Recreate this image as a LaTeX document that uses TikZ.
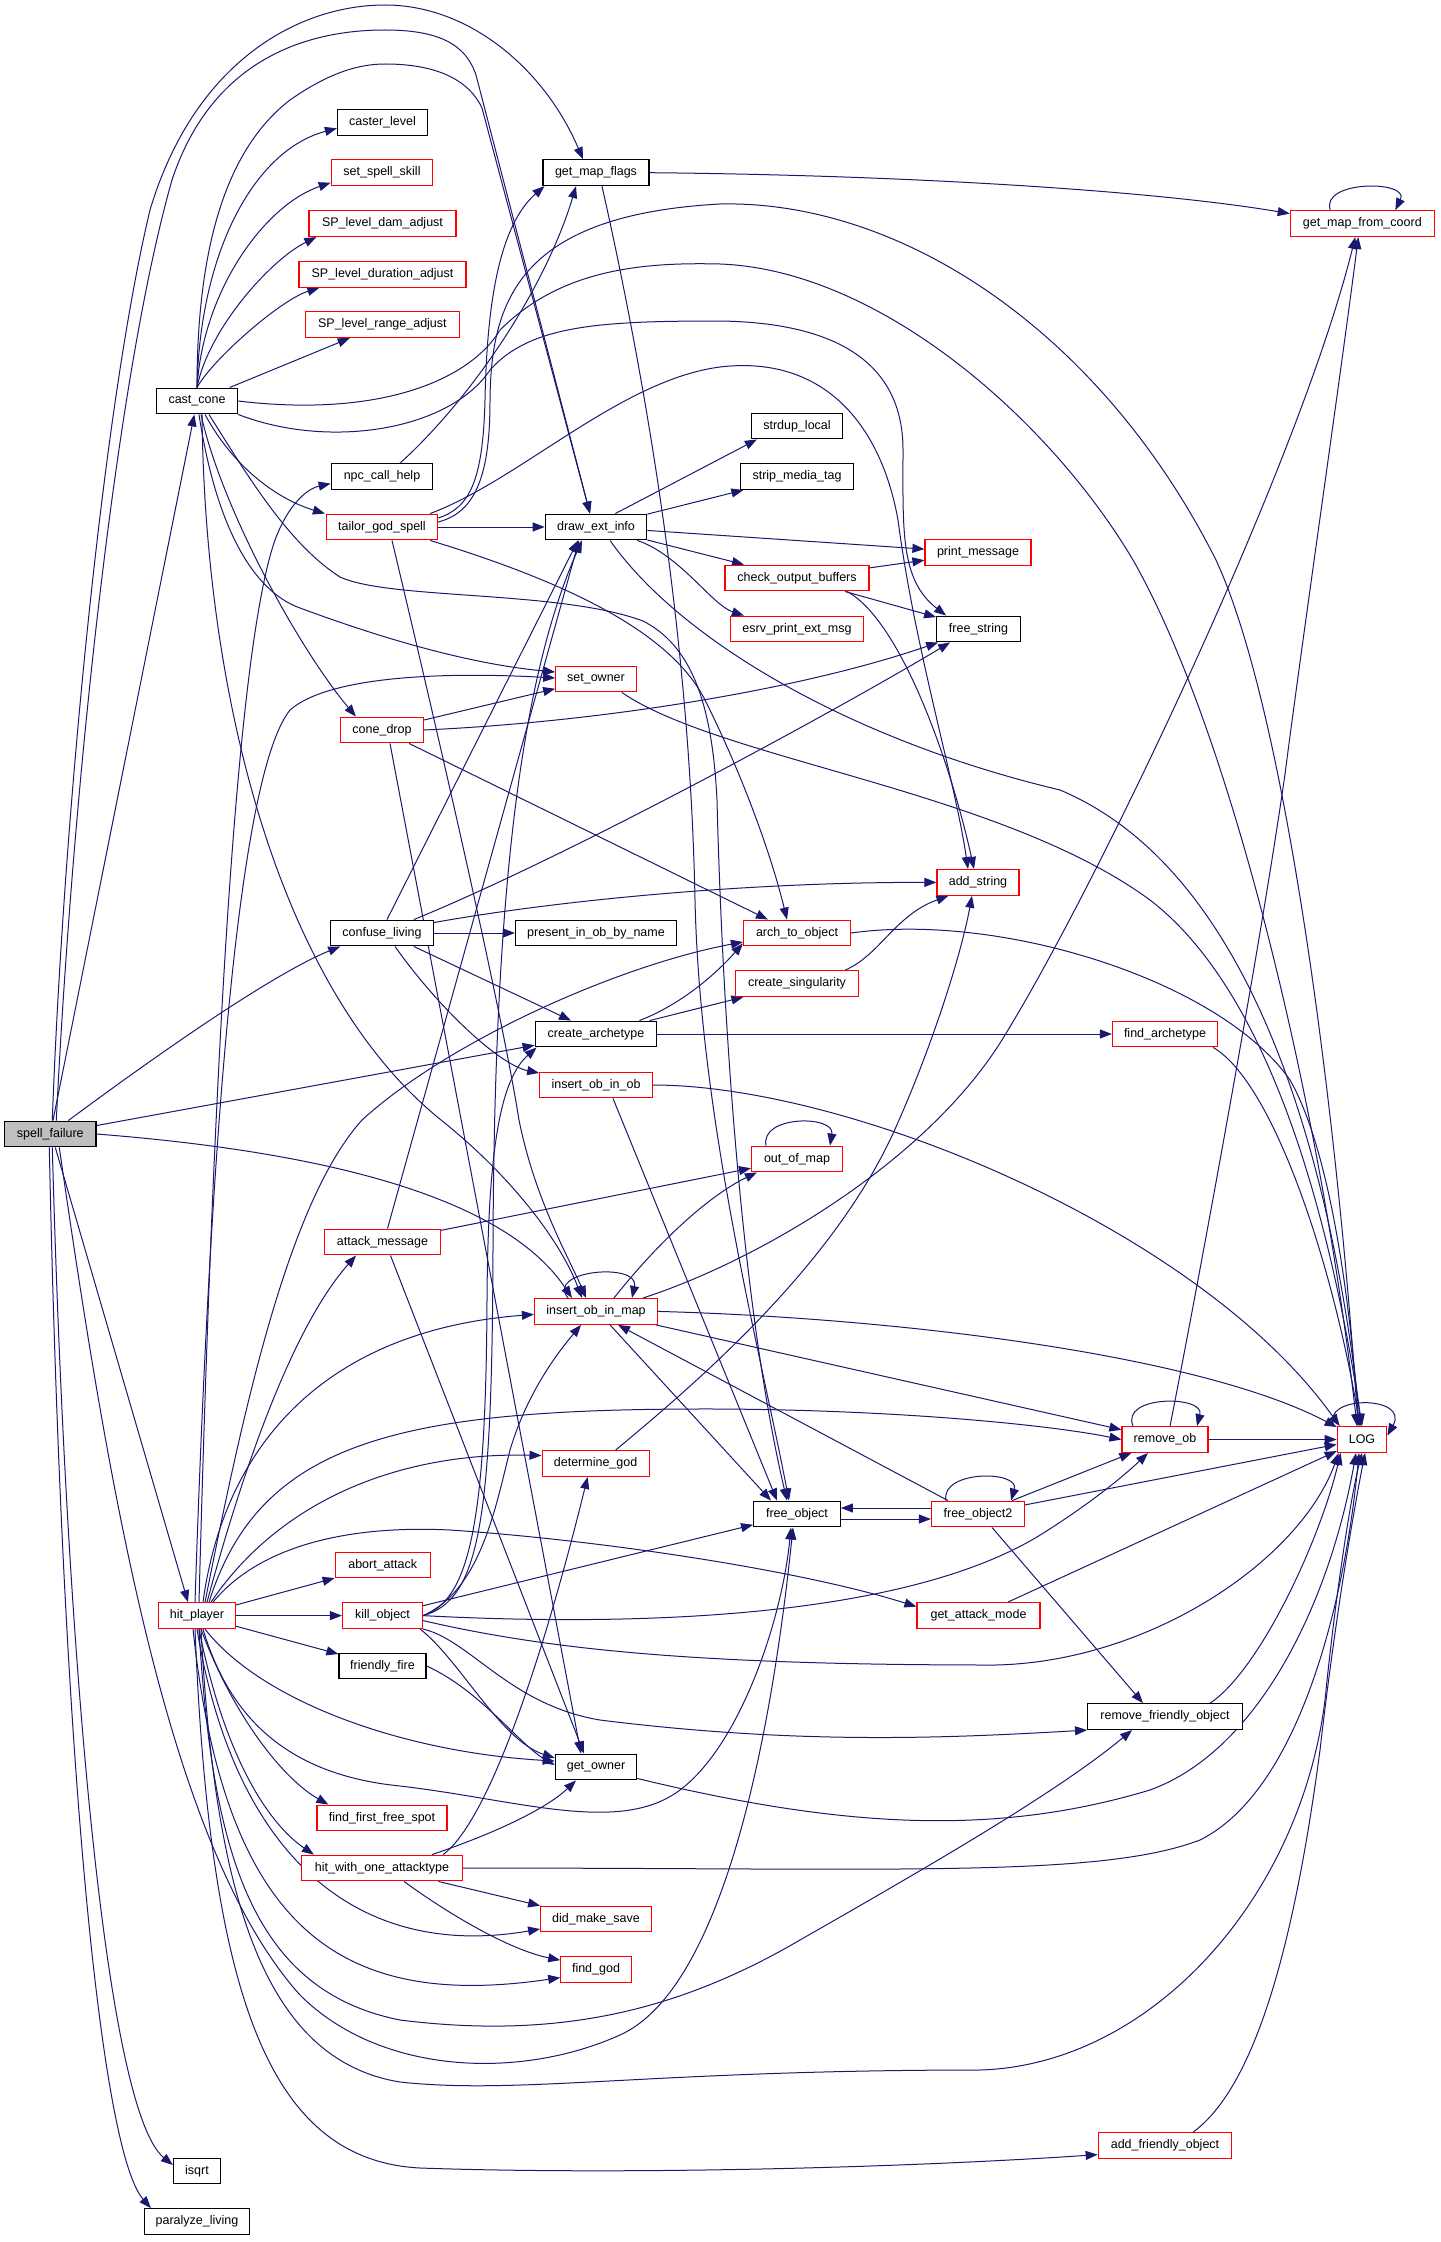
\documentclass[tikz,border=0pt]{standalone}
\usepackage{fontspec}
\setmainfont{Liberation Sans}
\usetikzlibrary{arrows.meta,calc}
\definecolor{edgecol}{RGB}{25,25,112}
\definecolor{boxred}{RGB}{255,0,0}
\definecolor{sfgray}{RGB}{191,191,191}
\pgfdeclarelayer{back}
\pgfdeclarelayer{bg}
\pgfsetlayers{back,bg,main}
\begin{document}
\begin{tikzpicture}[x=1pt,y=-1pt,
  nb/.style={draw=black,line width=1.2pt,fill=white,minimum height=25.7pt,inner sep=0pt,
    font=\fontsize{12.5}{15}\selectfont,text=black},
  nr/.style={nb,draw=boxred},
  ed/.style={draw=edgecol,line width=1pt,-{Triangle[length=12pt,width=9pt]}}]
\useasboundingbox (0,0) rectangle (1440,2242);
\begin{pgfonlayer}{back}
\fill[white] (0,0) rectangle (1440,2242);
\end{pgfonlayer}
% nodes
\node[nb,fill=sfgray,minimum width=91.4pt] (sf) at (50.3,1134) {spell\_failure};
\node[nb,minimum width=81pt] (cc) at (197,401) {cast\_cone};
\node[nb,minimum width=90pt] (cl0) at (382.5,122.3) {caster\_level};
\node[nr,minimum width=101.5pt] (sss) at (382,172.7) {set\_spell\_skill};
\node[nr,minimum width=147pt] (dam) at (382.5,223.6) {SP\_level\_dam\_adjust};
\node[nr,minimum width=167pt] (dur) at (382.5,274.3) {SP\_level\_duration\_adjust};
\node[nr,minimum width=154.6pt] (rng) at (382.4,324.6) {SP\_level\_range\_adjust};
\node[nb,minimum width=106pt] (gmf) at (596,172.7) {get\_map\_flags};
\node[nb,minimum width=101.5pt] (npc) at (382,476.6) {npc\_call\_help};
\node[nr,minimum width=111pt] (tgs) at (382,527) {tailor\_god\_spell};
\node[nb,minimum width=101.5pt] (dei) at (596,527) {draw\_ext\_info};
\node[nr,minimum width=144pt] (gmfc) at (1362.3,223.6) {get\_map\_from\_coord};
\node[nb,minimum width=91pt] (sd) at (797,426) {strdup\_local};
\node[nb,minimum width=113.6pt] (smt) at (797,476.6) {strip\_media\_tag};
\node[nr,minimum width=106pt] (pm) at (978,552.7) {print\_message};
\node[nr,minimum width=144pt] (cob) at (797,578) {check\_output\_buffers};
\node[nr,minimum width=133pt] (esrv) at (797,629) {esrv\_print\_ext\_msg};
\node[nb,minimum width=83.6pt] (frs) at (978.5,629) {free\_string};
\node[nr,minimum width=80.5pt] (so) at (596,679) {set\_owner};
\node[nr,minimum width=83pt] (cd) at (382,730) {cone\_drop};
\node[nr,minimum width=82pt] (ads) at (978,882.4) {add\_string};
\node[nb,minimum width=102.4pt] (cl) at (382,933) {confuse\_living};
\node[nb,minimum width=161pt] (pibn) at (596,933) {present\_in\_ob\_by\_name};
\node[nr,minimum width=107pt] (ato) at (797,933) {arch\_to\_object};
\node[nr,minimum width=123pt] (cs) at (797,983.6) {create\_singularity};
\node[nb,minimum width=121.6pt] (ca) at (596,1034) {create\_archetype};
\node[nr,minimum width=105pt] (fa) at (1165,1034) {find\_archetype};
\node[nr,minimum width=112.5pt] (ioo) at (596,1085) {insert\_ob\_in\_ob};
\node[nr,minimum width=91pt] (oom) at (797,1159) {out\_of\_map};
\node[nr,minimum width=115.7pt] (am) at (382.5,1242) {attack\_message};
\node[nr,minimum width=123pt] (iom) at (596,1311.4) {insert\_ob\_in\_map};
\node[nr,minimum width=86pt] (ro) at (1165,1439.5) {remove\_ob};
\node[nr,minimum width=49.5pt] (LOG) at (1362,1439.5) {LOG};
\node[nr,minimum width=107pt] (dg) at (595.6,1463.5) {determine\_god};
\node[nb,minimum width=86.7pt] (fo) at (797,1514) {free\_object};
\node[nr,minimum width=93pt] (fo2) at (978,1514) {free\_object2};
\node[nr,minimum width=95pt] (aa) at (382.7,1565) {abort\_attack};
\node[nr,minimum width=77pt] (hp) at (197,1615.6) {hit\_player};
\node[nr,minimum width=80pt] (ko) at (382.5,1615.6) {kill\_object};
\node[nr,minimum width=123pt] (gam) at (978.5,1615.6) {get\_attack\_mode};
\node[nb,minimum width=87pt] (ff) at (382.5,1666) {friendly\_fire};
\node[nb,minimum width=154.7pt] (rfo) at (1165,1716.6) {remove\_friendly\_object};
\node[nb,minimum width=81.4pt] (gow) at (596,1767) {get\_owner};
\node[nr,minimum width=130pt] (ffs) at (382,1818) {find\_first\_free\_spot};
\node[nr,minimum width=161pt] (hwoa) at (382,1868) {hit\_with\_one\_attacktype};
\node[nr,minimum width=110.6pt] (dms) at (596,1919) {did\_make\_save};
\node[nr,minimum width=70.4pt] (fgod) at (596,1969.6) {find\_god};
\node[nr,minimum width=133.5pt] (afo) at (1165,2145.6) {add\_friendly\_object};
\node[nb,minimum width=47pt] (isq) at (197,2171) {isqrt};
\node[nb,minimum width=105pt] (pl) at (197,2221.6) {paralyze\_living};
\begin{pgfonlayer}{bg}
% spell_failure
\draw[ed] (sf) -- (cc);
\draw[ed] ($(sf.north)+(2,0)$) .. controls (62,850) and (100,420) .. (150,210) .. controls (195,60) and (300,5) .. (385,5) .. controls (470,5) and (545,70) .. ($(gmf.north)+(-13,0)$);
\draw[ed] ($(sf.north)+(6,0)$) .. controls (72,800) and (115,380) .. (172,180) .. controls (215,50) and (320,30) .. (385,30) .. controls (440,30) and (466,45) .. (476,75) -- ($(dei.north)+(-6,0)$);
\draw[ed] (cc.north) .. controls (197,250) and (225,150) .. (290,100) .. controls (330,72) and (360,64) .. (385,64) .. controls (440,64) and (470,82) .. (482,108) -- ($(dei.north)+(-6,0)$);
\draw[ed] ($(sf.north)+(18,0)$) .. controls (150,1060) and (270,975) .. ($(cl.south west)+(10,0)$);
\draw[ed] (sf) -- (ca);
\draw[ed] (sf.east) .. controls (300,1150) and (500,1190) .. ($(iom.north)+(-24,0)$);
\draw[ed] ($(sf.south)+(5,0)$) -- ($(hp.north)+(-9,0)$);
\draw[ed] ($(sf.south)+(2,0)$) .. controls (66,1650) and (105,2110) .. ($(isq.west)+(0,-6)$);
\draw[ed] ($(sf.south)+(-1,0)$) .. controls (62,1750) and (100,2150) .. ($(pl.north west)+(7,0)$);
\draw[ed] ($(sf.south)+(9,0)$) .. controls (110,1500) and (170,1850) .. (300,1995) .. controls (380,2075) and (520,2080) .. (620,2035) .. controls (720,1990) and (770,1750) .. ($(fo.south)+(-4,0)$);
% cast_cone
\draw[ed] (cc.north) .. controls (200,250) and (255,150) .. ($(cl0.west)+(0,6)$);
\draw[ed] (cc.north) .. controls (203,290) and (265,205) .. ($(sss.west)+(0,10)$);
\draw[ed] (cc.north) .. controls (208,330) and (270,260) .. ($(dam.south west)+(8,0)$);
\draw[ed] (cc.north) .. controls (212,360) and (280,300) .. ($(dur.south west)+(21,0)$);
\draw[ed] (cc) -- (rng);
\draw[ed] (cc.east) .. controls (380,418) and (470,380) .. (500,330) .. controls (560,270) and (640,262) .. (720,264) .. controls (880,270) and (1050,420) .. (1133,560) .. controls (1230,730) and (1320,1100) .. ($(LOG.north)+(-5,0)$);
\draw[ed] (cc.south east) .. controls (330,450) and (450,430) .. (490,370) .. controls (530,325) and (600,321) .. (720,321) .. controls (860,323) and (903,380) .. (903,450) .. controls (903,530) and (900,580) .. ($(frs.north west)+(10,0)$);
\draw[ed] ($(cc.south)+(4,0)$) .. controls (222,510) and (300,650) .. ($(cd.north west)+(16,0)$);
\draw[ed] ($(cc.south)+(2,0)$) .. controls (215,520) and (250,590) .. (300,608) .. controls (400,645) and (480,665) .. ($(so.west)+(0,-7)$);
\draw[ed] ($(cc.south)+(5,0)$) .. controls (205,700) and (280,990) .. (441,1120) .. controls (510,1175) and (560,1240) .. ($(iom.north)+(-14,0)$);
\draw[ed] ($(cc.south)+(8,0)$) .. controls (235,470) and (280,500) .. ($(tgs.north west)+(-1,0)$);
\draw[ed] ($(cc.south)+(12,0)$) .. controls (250,480) and (290,545) .. (340,577) .. controls (390,600) and (560,590) .. (643,621) .. controls (690,645) and (712,700) .. (717,800) .. controls (722,1000) and (740,1300) .. ($(fo.north)+(-10,0)$);
% get_map_flags, npc, tailor
\draw[ed] ($(gmf.south)+(6,0)$) .. controls (650,400) and (690,650) .. (695,900) .. controls (700,1120) and (760,1350) .. ($(fo.north)+(-8,0)$);
\draw[ed] (gmf.east) .. controls (900,175) and (1150,190) .. ($(gmfc.west)+(0,-10)$);
\draw[ed] ($(gmfc.north)+(-32,0)$) .. controls (1320,180) and (1410,180) .. ($(gmfc.north)+(33,0)$);
\draw[ed] ($(npc.north)+(18,0)$) .. controls (470,400) and (545,290) .. ($(gmf.south)+(-20,0)$);
\draw[ed] (tgs) -- (dei);
\draw[ed] ($(tgs.east)+(0,-9)$) .. controls (470,508) and (483,480) .. (485,400) .. controls (487,300) and (500,225) .. ($(gmf.south west)+(2,0)$);
\draw[ed] ($(tgs.east)+(0,-5)$) .. controls (478,512) and (490,470) .. (490,400) .. controls (491,300) and (520,215) .. (720,204) .. controls (900,200) and (1100,330) .. (1216,560) .. controls (1290,720) and (1340,1150) .. ($(LOG.north)+(-4,0)$);
\draw[ed] ($(tgs.north east)+(-8,0)$) .. controls (520,480) and (620,380) .. (720,367) .. controls (820,355) and (880,420) .. (898,520) .. controls (915,650) and (955,780) .. ($(ads.north)+(-10,0)$);
\draw[ed] ($(tgs.south east)+(-8,0)$) .. controls (560,580) and (670,630) .. (705,700) .. controls (740,770) and (770,850) .. ($(ato.north)+(-10,0)$);
\draw[ed] ($(tgs.south)+(10,0)$) .. controls (430,700) and (500,1000) .. (519,1120) .. controls (535,1200) and (570,1260) .. ($(iom.north)+(-10,0)$);
% hit_player upward
\draw[ed] ($(hp.north)+(2,0)$) .. controls (215,1000) and (240,640) .. (275,540) .. controls (290,500) and (310,488) .. ($(npc.west)+(0,7)$);
\draw[ed] ($(hp.north)+(-2,0)$) .. controls (215,1000) and (250,760) .. (290,710) .. controls (330,675) and (450,672) .. ($(so.west)+(0,-1)$);
\draw[ed] ($(hp.north)+(10,0)$) .. controls (240,1480) and (290,1330) .. ($(am.south west)+(32,0)$);
\draw[ed] ($(hp.north)+(6,0)$) .. controls (225,1440) and (330,1330) .. ($(iom.west)+(0,3)$);
\draw[ed] ($(hp.north)+(12,0)$) .. controls (260,1440) and (400,1408) .. (720,1409) .. controls (900,1410) and (1050,1425) .. (ro.west);
\draw[ed] ($(hp.north)+(14,0)$) .. controls (280,1500) and (400,1452) .. ($(dg.west)+(0,-8)$);
\draw[ed] ($(hp.north)+(16,0)$) .. controls (260,1545) and (350,1525) .. (450,1530) .. controls (600,1540) and (800,1570) .. ($(gam.west)+(0,-9)$);
\draw[ed] ($(hp.north)+(8,0)$) .. controls (245,1400) and (290,1200) .. (362,1120) .. controls (450,1040) and (620,965) .. ($(ato.west)+(0,9)$);
\draw[ed] (hp) -- (aa);
\draw[ed] (hp) -- (ko);
\draw[ed] (hp) -- (ff);
% hit_player downward
\draw[ed] ($(hp.south)+(4,0)$) .. controls (215,1900) and (265,2060) .. (400,2082) .. controls (520,2095) and (650,2070) .. (980,2070) .. controls (1150,2065) and (1300,1900) .. (1325,1700) .. controls (1335,1600) and (1350,1500) .. (LOG.south);
\draw[ed] ($(hp.south)+(-2,0)$) .. controls (210,2000) and (270,2160) .. (420,2168) .. controls (620,2175) and (900,2168) .. ($(afo.west)+(0,9)$);
\draw[ed] ($(hp.south)+(2,0)$) .. controls (212,1850) and (250,1990) .. (400,2020) .. controls (560,2040) and (680,2010) .. (800,1940) .. controls (940,1860) and (1060,1790) .. ($(rfo.south west)+(45,0)$);
\draw[ed] ($(hp.south)+(6,0)$) .. controls (230,1720) and (290,1775) .. (400,1786) .. controls (520,1800) and (620,1835) .. (680,1790) .. controls (740,1745) and (782,1620) .. ($(fo.south)+(-6,0)$);
\draw[ed] ($(hp.south)+(8,0)$) .. controls (260,1700) and (400,1752) .. ($(gow.west)+(0,-6)$);
\draw[ed] ($(hp.south)+(4,0)$) .. controls (235,1720) and (285,1780) .. ($(ffs.north west)+(12,0)$);
\draw[ed] ($(hp.south)+(2,0)$) .. controls (225,1760) and (270,1825) .. ($(hwoa.north west)+(13,0)$);
\draw[ed] (hp.south) .. controls (235,1860) and (360,1960) .. ($(dms.west)+(0,10)$);
\draw[ed] ($(hp.south)+(-4,0)$) .. controls (225,1930) and (340,2010) .. ($(fgod.west)+(0,8)$);
% cone_drop
\draw[ed] (cd) -- (so);
\draw[ed] (cd.east) .. controls (600,722) and (800,690) .. ($(frs.south west)+(2,0)$);
\draw[ed] ($(cd.south east)+(-15,0)$) -- ($(ato.north west)+(25,0)$);
\draw[ed] ($(cd.south)+(8,0)$) -- ($(gow.north)+(-15,0)$);
% confuse_living
\draw[ed] ($(cl.north)+(5,0)$) -- ($(dei.south)+(-18,0)$);
\draw[ed] ($(cl.north east)+(-20,0)$) .. controls (560,860) and (820,720) .. ($(frs.south west)+(14,0)$);
\draw[ed] ($(cl.north east)+(0,3)$) .. controls (560,900) and (750,882) .. (ads.west);
\draw[ed] (cl) -- (pibn);
\draw[ed] ($(cl.south east)+(-20,0)$) -- ($(ca.north)+(-25,0)$);
\draw[ed] ($(cl.south)+(13,0)$) .. controls (440,1010) and (500,1065) .. ($(ioo.west)+(0,-12)$);
% create_archetype etc
\draw[ed] ($(ca.north east)+(-18,0)$) .. controls (680,1005) and (715,975) .. ($(ato.south west)+(0,-3)$);
\draw[ed] (ca) -- (cs);
\draw[ed] (ca) -- (fa);
\draw[ed] ($(cs.north east)+(-14,0)$) .. controls (880,955) and (895,915) .. ($(ads.south west)+(12,0)$);
\draw[ed] (ato.east) .. controls (1000,912) and (1220,980) .. (1290,1080) .. controls (1330,1150) and (1350,1300) .. ($(LOG.north)+(-3,0)$);
\draw[ed] ($(fa.south east)+(-5,0)$) .. controls (1270,1080) and (1330,1250) .. ($(LOG.north)+(-2,0)$);
\draw[ed] (ioo.east) .. controls (850,1085) and (1200,1230) .. ($(LOG.north west)+(3,0)$);
\draw[ed] ($(ioo.south)+(17,0)$) -- ($(fo.north)+(-20,0)$);
% insert_ob_in_map
\draw[ed] ($(iom.south)+(14,0)$) -- ($(fo.north)+(-26,0)$);
\draw[ed] ($(iom.north)+(-28,0)$) .. controls (545,1270) and (640,1262) .. ($(iom.north)+(36,0)$);
\draw[ed] ($(iom.north)+(18,0)$) .. controls (660,1240) and (710,1195) .. ($(oom.south west)+(6,0)$);
\draw[ed] ($(iom.north east)+(-15,0)$) .. controls (760,1260) and (930,1160) .. (1005,1035) .. controls (1100,880) and (1300,460) .. ($(gmfc.south)+(-7,0)$);
\draw[ed] (iom.east) .. controls (900,1318) and (1200,1355) .. ($(LOG.north west)+(0,1)$);
\draw[ed] (iom) -- (ro);
\draw[ed] ($(fo2.north)+(-30,0)$) -- ($(iom.south)+(22,0)$);
\draw[ed] ($(dg.north)+(20,0)$) .. controls (700,1380) and (840,1260) .. (899,1120) .. controls (930,1050) and (960,960) .. ($(ads.south)+(-6,0)$);
% remove_ob
\draw[ed] ($(ro.north)+(-32,0)$) .. controls (1120,1395) and (1205,1395) .. ($(ro.north)+(32,0)$);
\draw[ed] (ro) -- (LOG);
\draw[ed] ($(ro.north)+(5,0)$) .. controls (1195,1300) and (1260,950) .. (1285,774) .. controls (1305,620) and (1340,380) .. ($(gmfc.south)+(-4,0)$);
% draw_ext_info
\draw[ed] ($(dei.north east)+(-32,0)$) -- ($(sd.south west)+(6,0)$);
\draw[ed] (dei) -- (smt);
\draw[ed] (dei) -- (pm);
\draw[ed] (dei) -- (cob);
\draw[ed] ($(dei.south east)+(-10,0)$) .. controls (680,555) and (712,605) .. ($(esrv.north west)+(14,0)$);
\draw[ed] ($(dei.south)+(14,0)$) .. controls (680,640) and (850,740) .. (1060,790) .. controls (1250,870) and (1330,1150) .. ($(LOG.north)+(-1,0)$);
\draw[ed] (cob) -- (pm);
\draw[ed] (cob) -- (frs);
\draw[ed] ($(cob.south)+(50,0)$) .. controls (900,620) and (950,760) .. ($(ads.north)+(-4,0)$);
\draw[ed] ($(so.south east)+(-15,0)$) .. controls (720,760) and (1000,790) .. (1150,900) .. controls (1280,1000) and (1335,1250) .. (LOG.north);
% attack_message
\draw[ed] (am) -- (oom);
\draw[ed] ($(oom.north)+(-31,0)$) .. controls (760,1115) and (835,1115) .. ($(oom.north)+(33,0)$);
\draw[ed] ($(am.north)+(5,0)$) -- ($(dei.south)+(-17,0)$);
\draw[ed] ($(am.south)+(8,0)$) -- ($(gow.north)+(-12,0)$);
% free_object(2)
\draw[ed] ($(fo.east)+(0,5)$) -- ($(fo2.west)+(0,5)$);
\draw[ed] ($(fo2.west)+(0,-6)$) -- ($(fo.east)+(0,-6)$);
\draw[ed] ($(fo2.north)+(-32,0)$) .. controls (940,1470) and (1020,1470) .. ($(fo2.north)+(33,0)$);
\draw[ed] ($(fo2.north east)+(-13,0)$) -- ($(ro.south west)+(10,0)$);
\draw[ed] (fo2) -- (LOG);
\draw[ed] ($(fo2.south)+(14,0)$) -- ($(rfo.north)+(-22,0)$);
\draw[ed] (gam) -- (LOG);
\draw[ed] ($(rfo.north)+(45,0)$) .. controls (1260,1670) and (1320,1540) .. ($(LOG.south west)+(4,0)$);
\draw[ed] ($(gow.south east)+(0,-2)$) .. controls (850,1830) and (1000,1835) .. (1150,1790) .. controls (1260,1750) and (1330,1600) .. ($(LOG.south)+(-6,0)$);
\draw[ed] (hwoa.east) .. controls (900,1868) and (1100,1878) .. (1200,1840) .. controls (1300,1790) and (1345,1600) .. ($(LOG.south)+(-3,0)$);
\draw[ed] ($(afo.north)+(28,0)$) .. controls (1265,2080) and (1300,1900) .. (1320,1750) .. controls (1335,1620) and (1352,1520) .. ($(LOG.south)+(3,0)$);
\draw[ed] ($(LOG.north)+(-28,0)$) .. controls (1320,1395) and (1410,1395) .. ($(LOG.east)+(0,-4)$);
% kill_object
\draw[ed] (ko.east) .. controls (480,1600) and (492,1520) .. (493,1250) .. controls (494,900) and (520,680) .. ($(dei.south)+(-14,0)$);
\draw[ed] (ko.east) .. controls (470,1600) and (486,1520) .. (487,1300) .. controls (488,1150) and (500,1080) .. ($(ca.south west)+(2,0)$);
\draw[ed] (ko.east) .. controls (480,1590) and (495,1510) .. (510,1450) .. controls (528,1390) and (560,1350) .. ($(iom.south)+(-15,0)$);
\draw[ed] (ko) -- (fo);
\draw[ed] (ko.east) .. controls (600,1625) and (900,1625) .. (1045,1532) .. controls (1100,1497) and (1130,1470) .. ($(ro.south)+(-17,0)$);
\draw[ed] ($(ko.east)+(0,5)$) .. controls (550,1650) and (700,1665) .. (995,1665) .. controls (1150,1662) and (1300,1560) .. ($(LOG.south west)+(2,0)$);
\draw[ed] (ko.south east) .. controls (470,1640) and (510,1705) .. (600,1720) .. controls (800,1745) and (950,1738) .. (rfo.south west);
\draw[ed] ($(ko.south east)+(-3,0)$) .. controls (460,1660) and (500,1740) .. ($(gow.west)+(0,-9)$);
\draw[ed] (ff.east) .. controls (480,1690) and (520,1745) .. ($(gow.west)+(0,-2)$);
% hit_with_one_attacktype
\draw[ed] ($(hwoa.north east)+(-20,0)$) .. controls (490,1820) and (545,1650) .. ($(dg.south)+(-8,0)$);
\draw[ed] ($(hwoa.north)+(50,0)$) .. controls (490,1835) and (545,1810) .. ($(gow.south)+(-20,0)$);
\draw[ed] (hwoa) -- (dms);
\draw[ed] ($(hwoa.south)+(22,0)$) .. controls (450,1915) and (510,1950) .. ($(fgod.north west)+(0,4)$);
\end{pgfonlayer}
\end{tikzpicture}
\end{document}
